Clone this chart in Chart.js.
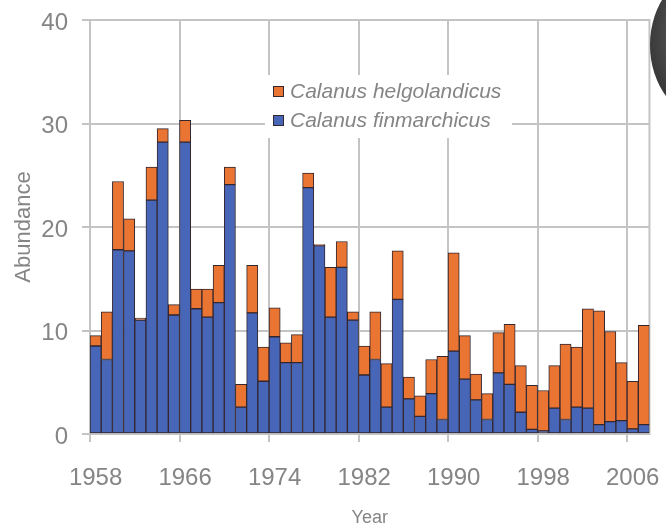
<!DOCTYPE html>
<html>
<head>
<meta charset="utf-8">
<script src="https://cdn.jsdelivr.net/npm/chart.js@4/dist/chart.umd.min.js"></script>
<style>
  html, body { margin: 0; padding: 0; background: #fff; overflow: hidden; }
  #wrap { position: relative; width: 666px; height: 529px; }
  #blob {
    position: absolute; left: 650px; top: -30px; width: 120px; height: 150px;
    border-radius: 50%;
    background: radial-gradient(ellipse at 60% 45%, #5c5c5c 0%, #4a4a4a 55%, #2c2c2c 85%, #1e1e1e 100%);
  }
</style>
</head>
<body>
<div id="wrap">
  <canvas id="chart"></canvas>
  <div id="blob"></div>
</div>
<script>
// Calanus abundance, 1958-2007
const years = [
  '1958','1959','1960','1961','1962','1963','1964','1965','1966','1967',
  '1968','1969','1970','1971','1972','1973','1974','1975','1976','1977',
  '1978','1979','1980','1981','1982','1983','1984','1985','1986','1987',
  '1988','1989','1990','1991','1992','1993','1994','1995','1996','1997',
  '1998','1999','2000','2001','2002','2003','2004','2005','2006','2007'
];

const finmarchicus = [
  8.5, 7.2, 17.8, 17.7, 11.0, 22.6, 28.2, 11.5, 28.2, 12.1,
  11.3, 12.7, 24.1, 2.6, 11.7, 5.1, 9.4, 6.9, 6.9, 23.8,
  18.2, 11.3, 16.1, 11.0, 5.7, 7.2, 2.6, 13.0, 3.4, 1.7,
  3.9, 1.4, 8.0, 5.3, 3.3, 1.4, 5.9, 4.8, 2.1, 0.45,
  0.3, 2.5, 1.4, 2.6, 2.5, 0.9, 1.2, 1.3, 0.5, 0.9
];

const helgolandicus = [
  1.0, 4.6, 6.6, 3.1, 0.2, 3.2, 1.3, 1.0, 2.1, 1.9,
  2.7, 3.6, 1.7, 2.2, 4.6, 3.3, 2.8, 1.9, 2.7, 1.4,
  0.1, 4.8, 2.5, 0.8, 2.8, 4.6, 4.2, 4.7, 2.1, 2.0,
  3.3, 6.1, 9.5, 4.2, 2.5, 2.5, 3.9, 5.8, 4.5, 4.25,
  3.9, 4.1, 7.3, 5.8, 9.6, 11.0, 8.7, 5.6, 4.6, 9.6
];

const yTicks = [0, 10, 20, 30, 40];
const labelEvery = 8;

const BLUE = '#4866b8';
const ORANGE = '#ea7533';
const EDGE = '#33262e';
const GRID = '#c4c4c4';
const TEXT = '#858585';
const FONT = "'Liberation Sans', Arial, sans-serif";

// box round the plot area
const framePlugin = {
  id: 'frame',
  beforeDatasetsDraw(chart) {
    const {ctx, chartArea: a} = chart;
    ctx.save();
    ctx.strokeStyle = GRID;
    ctx.lineWidth = 2;
    ctx.strokeRect(a.left, a.top, a.right - a.left, a.bottom - a.top);
    ctx.restore();
  }
};

// legend sits inside the plot, on a white box
const boxLegend = {
  id: 'boxLegend',
  afterDatasetsDraw(chart) {
    const {ctx, chartArea: a} = chart;
    const x = a.left + 175, y = a.top + 55;
    ctx.save();
    ctx.fillStyle = '#fff';
    ctx.fillRect(x, y, 247, 63);
    const items = [
      {label: 'Calanus helgolandicus', color: ORANGE},
      {label: 'Calanus finmarchicus', color: BLUE}
    ];
    ctx.font = 'italic 21px ' + FONT;
    ctx.textBaseline = 'middle';
    items.forEach((it, i) => {
      const cy = y + 17 + i * 29;
      ctx.fillStyle = it.color;
      ctx.fillRect(x + 8, cy - 6, 11, 11);
      ctx.strokeStyle = EDGE;
      ctx.lineWidth = 1;
      ctx.strokeRect(x + 8.5, cy - 5.5, 10, 10);
      ctx.fillStyle = TEXT;
      ctx.fillText(it.label, x + 25, cy);
    });
    ctx.restore();
  }
};

const ctx = document.getElementById('chart').getContext('2d');
new Chart(ctx, {
  type: 'bar',
  data: {
    labels: years,
    datasets: [
      {
        label: 'Calanus finmarchicus',
        data: finmarchicus,
        backgroundColor: BLUE,
        borderColor: EDGE,
        borderWidth: 1,
        borderSkipped: false
      },
      {
        label: 'Calanus helgolandicus',
        data: helgolandicus,
        backgroundColor: ORANGE,
        borderColor: EDGE,
        borderWidth: 1,
        borderSkipped: false
      }
    ]
  },
  options: {
    responsive: true,
    maintainAspectRatio: false,
    animation: false,
    barPercentage: 1,
    categoryPercentage: 1,
    layout: { padding: { top: 20, right: 14, bottom: 0, left: 0 } },
    plugins: {
      legend: { display: false },
      tooltip: { enabled: false }
    },
    scales: {
      x: {
        stacked: true,
        offset: true,
        afterFit(scale) { scale.height = 95; },
        grid: {
          offset: true,
          lineWidth: 2,
          tickLength: 8,
          color: (c) => (c.index !== undefined && c.index % labelEvery === 0) ? GRID : 'rgba(0,0,0,0)'
        },
        border: { display: true, color: GRID, width: 2 },
        ticks: {
          autoSkip: false,
          maxRotation: 0,
          padding: 22,
          color: TEXT,
          font: { family: FONT, size: 24 },
          callback(val, i) { return i % labelEvery === 0 ? years[i] : ''; }
        },
        title: {
          display: true,
          text: 'Year',
          color: TEXT,
          font: { family: FONT, size: 18 },
          padding: { top: 0, bottom: 0 }
        }
      },
      y: {
        stacked: true,
        min: yTicks[0],
        max: yTicks[yTicks.length - 1],
        afterFit(scale) {
          scale.width = 90;
          scale.paddingTop = 0;
          scale.paddingBottom = 0;
        },
        afterBuildTicks(scale) { scale.ticks = yTicks.map(v => ({value: v})); },
        grid: { lineWidth: 2, tickLength: 8, color: GRID },
        border: { display: true, color: GRID, width: 2 },
        ticks: {
          padding: 14,
          labelOffset: 3,
          color: TEXT,
          font: { family: FONT, size: 24 }
        },
        title: {
          display: true,
          text: 'Abundance',
          color: TEXT,
          font: { family: FONT, size: 22 },
          padding: { top: 11, bottom: 0 }
        }
      }
    }
  },
  plugins: [framePlugin, boxLegend]
});
</script>
</body>
</html>
